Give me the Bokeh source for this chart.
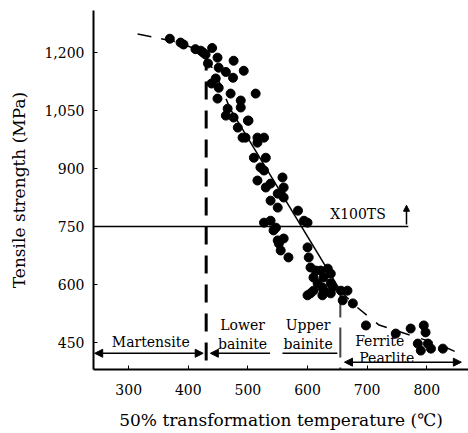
from bokeh.plotting import figure
from bokeh.embed import file_html
from bokeh.resources import INLINE
from bokeh.models import Range1d, Label, Arrow, NormalHead, FixedTicker

# ---- data ----
temp = [369, 387, 392, 421, 429, 433, 449, 451, 476, 493, 475, 446, 451, 449, 471, 488,
        513, 466, 476, 488, 483, 501, 496, 516, 527, 510, 530, 521, 516, 538, 558, 560,
        555, 527, 538, 550, 584, 594, 527, 538, 543, 560, 550, 555, 568, 600, 602, 605,
        610, 617, 627, 639, 610, 627, 642, 605, 656, 667, 659, 676, 698, 748, 773, 795,
        798, 785, 802, 807, 827, 790, 614, 622, 634, 625, 639, 625, 639, 600, 547, 552,
        600, 530, 550, 560, 516, 491, 463, 500, 412, 463, 439, 425, 440]
strength = [1236, 1226, 1221, 1205, 1195, 1172, 1187, 1161, 1179, 1153, 1135, 1133, 1109,
            1081, 1094, 1076, 1094, 1055, 1032, 1058, 1006, 1024, 980, 980, 980, 928, 928,
            903, 869, 861, 877, 851, 835, 895, 817, 799, 791, 765, 760, 765, 740, 719, 714,
            688, 670, 696, 670, 644, 618, 603, 618, 628, 584, 584, 592, 577, 584, 584, 559,
            551, 494, 473, 486, 494, 476, 447, 447, 434, 434, 429, 636, 636, 641, 592, 603,
            572, 577, 572, 747, 706, 760, 851, 835, 825, 967, 980, 1037, 1024, 1209, 1150, 1120,
            1200, 1212]

trend_upper_T = [315, 380, 420, 445, 470]
trend_upper_S = [1248, 1228, 1205, 1150, 1055]
trend_mid_T = [470, 655]
trend_mid_S = [1055, 584]
trend_lower_T = [655, 680, 720, 770, 820, 860]
trend_lower_S = [584, 545, 495, 470, 445, 418]

x_ticks = [300, 400, 500, 600, 700, 800]
y_ticks = [450, 600, 750, 900, 1050, 1200]
y_tick_labels = {450: "450", 600: "600", 750: "750", 900: "900", 1050: "1,050", 1200: "1,200"}

FONT = "DejaVu Serif"

p = figure(width=468, height=433, output_backend="svg", toolbar_location=None,
           x_range=Range1d(241, 870), y_range=Range1d(380, 1309),
           min_border_left=93, min_border_right=0, min_border_top=10, min_border_bottom=64)
p.outline_line_color = None
p.grid.visible = False
p.background_fill_color = "white"
p.border_fill_color = "white"

for ax in (p.xaxis[0], p.yaxis[0]):
    ax.axis_line_width = 2
    ax.axis_line_color = "black"
    ax.major_tick_in = 4
    ax.major_tick_out = 0
    ax.minor_tick_line_color = None
    ax.major_label_text_font = FONT
    ax.major_label_text_font_size = "14px"
    ax.major_label_text_color = "black"
    ax.axis_label_text_font = FONT
    ax.axis_label_text_font_size = "17px"
    ax.axis_label_text_font_style = "normal"
    ax.axis_label_text_color = "black"

p.xaxis.ticker = FixedTicker(ticks=x_ticks)
p.yaxis.ticker = FixedTicker(ticks=y_ticks)
p.yaxis.major_label_overrides = y_tick_labels
p.xaxis.axis_label = "50% transformation temperature (℃)"
p.yaxis.axis_label = "Tensile strength (MPa)"
p.xaxis.major_label_standoff = 14
p.xaxis.axis_label_standoff = 12
p.yaxis.major_label_standoff = 9
p.yaxis.axis_label_standoff = 12

# reference lines
p.line([430, 430], [1200, 380], line_color="black", line_width=3, line_dash="18 11")
p.line([655, 655], [592, 380], line_color="#444444", line_width=2, line_dash="30 10")
p.line([241, 769], [750, 750], line_color="black", line_width=1.5)

# trend curve
p.line(trend_upper_T, trend_upper_S, line_color="black", line_width=1.5, line_dash="14 10")
p.line(trend_mid_T, trend_mid_S, line_color="black", line_width=1.5)
p.line(trend_lower_T, trend_lower_S, line_color="black", line_width=1.5, line_dash="12 12")

# data points
p.scatter(temp, strength, size=9, color="black")

# arrows along bottom
def head():
    return NormalHead(size=8, fill_color="black", line_color="black")

p.add_layout(Arrow(x_start=243, y_start=422, x_end=425, y_end=422, start=head(), end=head(),
                   line_width=1.5))
p.add_layout(Arrow(x_start=537, y_start=422, x_end=437, y_end=422, end=head(), line_width=1.5))
p.line([558, 650], [422, 422], line_color="black", line_width=1.5)
p.add_layout(Arrow(x_start=662, y_start=399, x_end=858, y_end=399, start=head(), end=head(),
                   line_width=1.5))
p.add_layout(Arrow(x_start=766, y_start=755, x_end=766, y_end=805,
                   end=NormalHead(size=6, fill_color="black", line_color="black"),
                   line_width=1.5))

labels = [
    ("Martensite", 337, 450),
    ("Lower", 491, 494),
    ("bainite", 491, 445),
    ("Upper", 601, 494),
    ("bainite", 601, 445),
    ("Ferrite", 721, 455),
    ("Pearlite", 733, 411),
]
for txt, lx, ly in labels:
    p.add_layout(Label(x=lx, y=ly, text=txt, text_font=FONT, text_font_size="14px",
                       text_align="center", text_baseline="middle", text_color="black"))
p.add_layout(Label(x=638, y=782, text="X100TS", text_font=FONT, text_font_size="14px",
                   text_align="left", text_baseline="middle", text_color="black"))

open("out.html", "w").write(file_html(p, INLINE))
